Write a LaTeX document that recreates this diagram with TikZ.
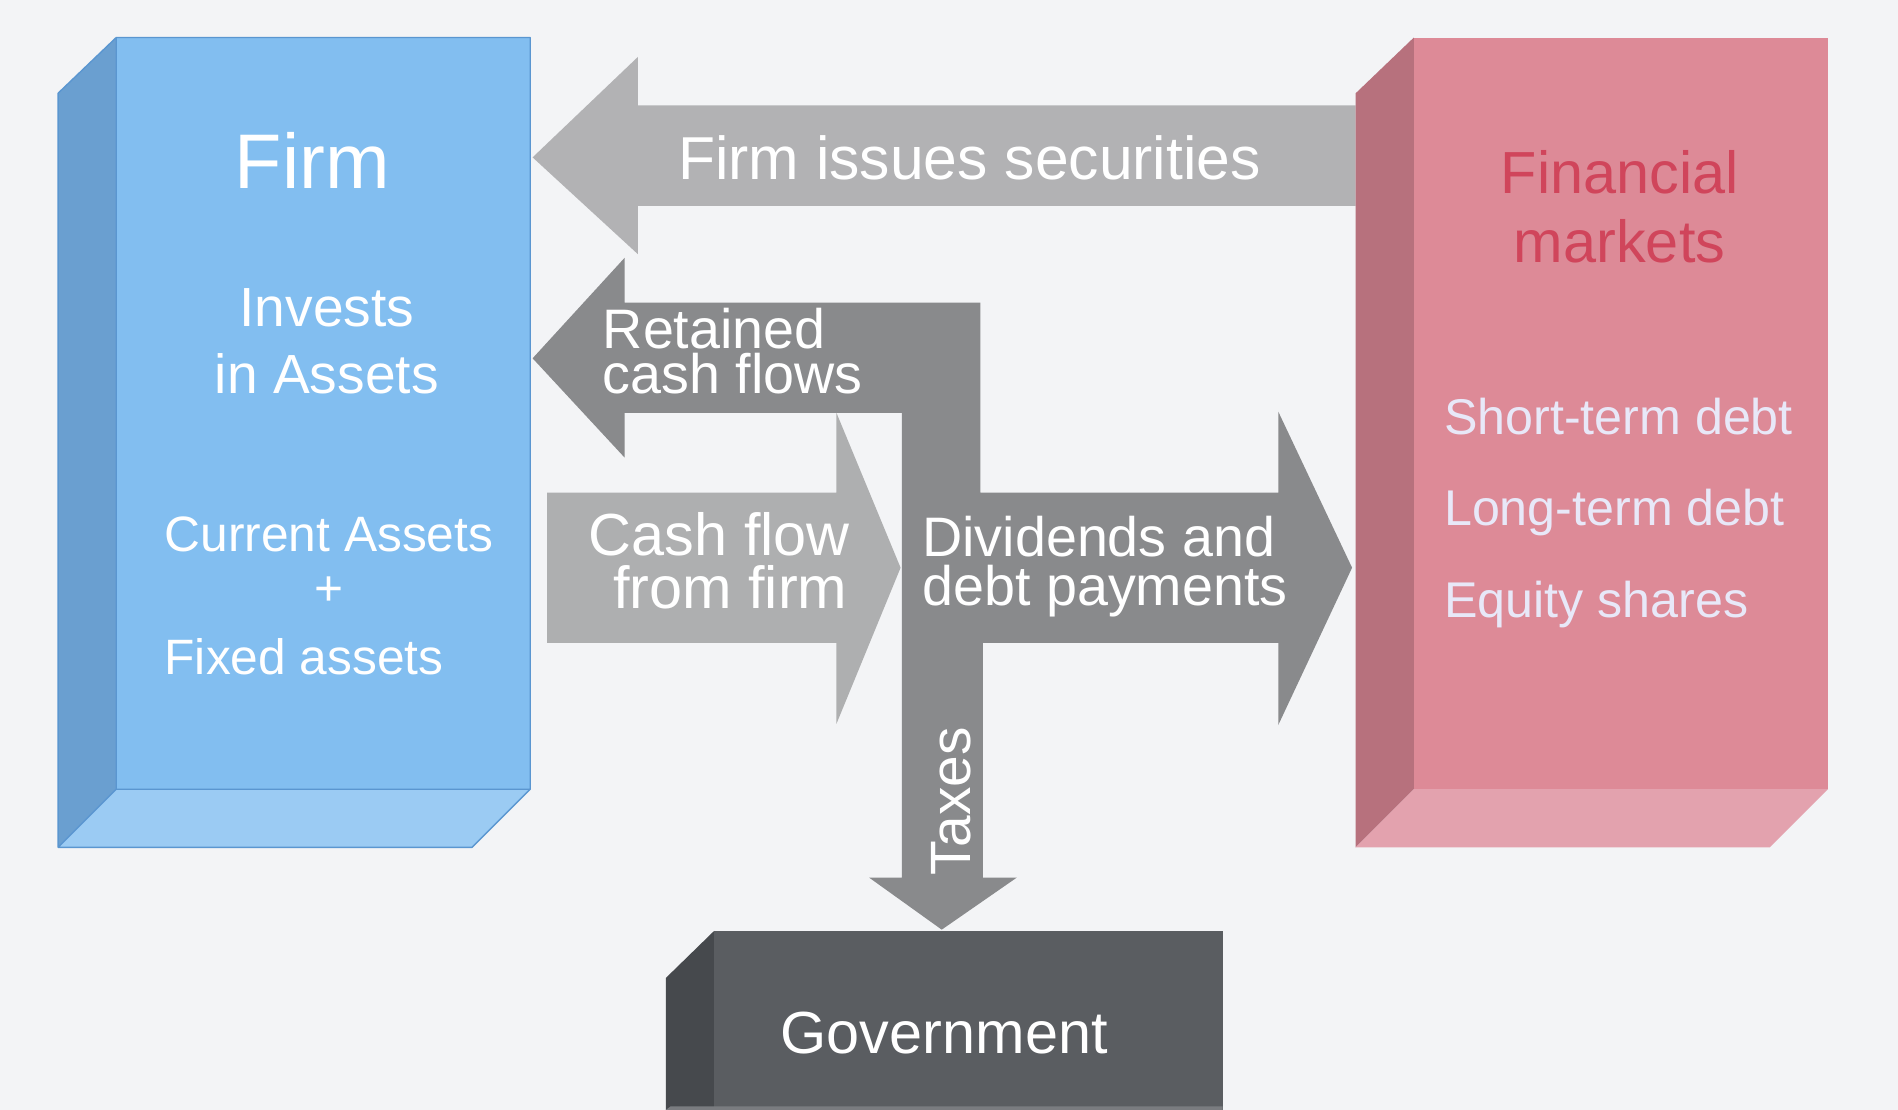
\documentclass[tikz,border=0pt]{standalone}
\usepackage{fontspec}
\setmainfont{Liberation Sans}
\definecolor{bg}{HTML}{F3F4F6}
\definecolor{bluefront}{HTML}{82BEF0}
\definecolor{blueside}{HTML}{6A9FD0}
\definecolor{bluebottom}{HTML}{9BCBF3}
\definecolor{blueedge}{HTML}{5A96D0}
\definecolor{pinkfront}{HTML}{DD8A97}
\definecolor{pinkside}{HTML}{B7717D}
\definecolor{pinkbottom}{HTML}{E3A2AE}
\definecolor{redtext}{HTML}{D0455B}
\definecolor{lavtext}{HTML}{E8E8F8}
\definecolor{govfront}{HTML}{5A5D61}
\definecolor{govside}{HTML}{46494D}
\definecolor{govbottom}{HTML}{7A7C80}
\definecolor{greytop}{HTML}{B2B2B4}
\definecolor{greycash}{HTML}{AEAFB0}
\definecolor{greydark}{HTML}{898A8C}
\tikzset{
  txt/.style={inner sep=0pt, outer sep=0pt, anchor=base},
  txtl/.style={txt, anchor=base west},
  txtr/.style={txt, anchor=base east},
}
\newcommand\fs[1]{\fontsize{#1pt}{#1pt}\selectfont}
\begin{document}
\begin{tikzpicture}[x=0.025cm, y=-0.025cm]
\useasboundingbox (0,0) rectangle (1568,917);
\fill[bg] (0,0) rectangle (1568,917);

% ---- top arrow: Firm issues securities
\fill[greytop] (440,130) -- (527,47) -- (527,87) -- (1120,87) -- (1120,170)
  -- (527,170) -- (527,210) -- cycle;

% ---- Firm box
\fill[blueside] (48,77) -- (96,31) -- (96,652) -- (48,700) -- cycle;
\fill[bluebottom] (48,700) -- (96,652) -- (438,652) -- (390,700) -- cycle;
\fill[bluefront] (96,31) rectangle (438,652);
\draw[blueedge, line width=0.8pt, line join=round]
  (48,77) -- (96,31) -- (438,31) -- (438,652) -- (390,700) -- (48,700) -- cycle
  (96,31) -- (96,652) -- (438,652) (96,652) -- (48,700);

% ---- Financial markets box
\fill[pinkside] (1120,77) -- (1168,31) -- (1168,652) -- (1120,700) -- cycle;
\fill[pinkbottom] (1120,700) -- (1168,652) -- (1510,652) -- (1462,700) -- cycle;
\fill[pinkfront] (1168,31) rectangle (1510,652);

% ---- Government box
\fill[govside] (550,808) -- (590,769) -- (590,917) -- (550,917) -- cycle;
\fill[govfront] (590,769) rectangle (1010,917);
\fill[govbottom] (550,917) -- (554,914) -- (1010,914) -- (1010,917) -- cycle;

% ---- dark combined arrow (retained / dividends / taxes)
\fill[greydark] (440,296) -- (516,213) -- (516,250) -- (810,250) -- (810,407)
  -- (1056,407) -- (1056,340) -- (1117,469) -- (1056,599) -- (1056,531)
  -- (812,531) -- (812,725) -- (840,725) -- (778,768) -- (718,725)
  -- (745,725) -- (745,341) -- (516,341) -- (516,378) -- cycle;

% ---- cash flow from firm arrow
\fill[greycash] (452,407) -- (691,407) -- (691,341) -- (744,469) -- (691,598)
  -- (691,531) -- (452,531) -- cycle;

% ---- texts
\node[txt, white] (firm) at (258,156) {\fs{45.5}Firm};
\node[txt, white] (inv1) at (270,270) {\fs{32.4}Invests};
\node[txt, white] (inv2) at (270,325) {\fs{32.4}in Assets};
\node[txtl, white] (ca) at (136,456) {\fs{29.2}Current Assets};
\node[txt, white] (plus) at (272,500) {\fs{29.2}+};
\node[txtl, white] (fa) at (136,557) {\fs{29.2}Fixed assets};

\node[txt, redtext] (fin1) at (1338,160) {\fs{34.9}Financial};
\node[txt, redtext] (fin2) at (1338,217) {\fs{34.9}markets};
\node[txtl, lavtext] (std) at (1193,359) {\fs{29.5}Short-term debt};
\node[txtl, lavtext] (ltd) at (1193,434) {\fs{29.5}Long-term debt};
\node[txtl, lavtext] (eqs) at (1193,510) {\fs{29.5}Equity shares};

\node[txt, white] (iss) at (801,148) {\fs{35.6}Firm issues securities};
\node[txtl, white] (ret1) at (498,288) {\fs{32.7}Retained};
\node[txtl, white] (ret2) at (498,325) {\fs{32.7}cash flows};
\node[txtr, white] (cf1) at (702,459) {\fs{34.9}Cash flow};
\node[txtr, white] (cf2) at (700,503) {\fs{34.9}from firm};
\node[txtl, white] (div1) at (762,460) {\fs{32.7}Dividends and};
\node[txtl, white] (div2) at (762,500) {\fs{32.7}debt payments};
\node[inner sep=0pt, white, rotate=90, anchor=base] (tax) at (802,662) {\fs{33.4}Taxes};
\node[txt, white] (gov) at (780,870) {\fs{34.9}Government};
\end{tikzpicture}
\end{document}
